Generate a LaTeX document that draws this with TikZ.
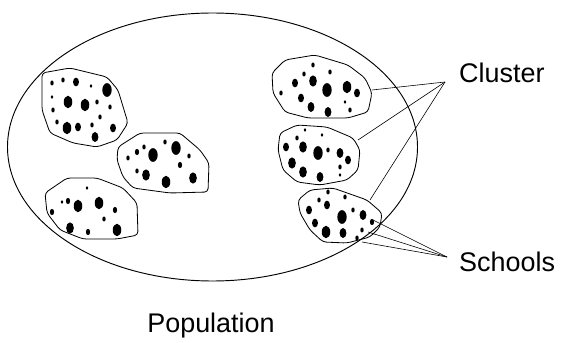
\documentclass[tikz,border=0pt]{standalone}
\usepackage{fontspec}
\setmainfont{Liberation Sans}
\begin{document}
\begin{tikzpicture}[x=0.03cm, y=-0.03cm,
    blob/.style={line width=0.7pt, rounded corners=3pt},
    spot/.style={fill=black},
    pointer/.style={line width=0.5pt},
    lbl/.style={font=\fontsize{23}{26}\selectfont, inner sep=0pt}]
\useasboundingbox (0,0) rectangle (561,343);

% Population
\draw[line width=0.8pt] (212.5,147) ellipse [x radius=205, y radius=134];
\node[lbl] (pop) at (211,326) {Population};

% Clusters, left side
\draw[blob] (42,73) -- (70,68) -- (107,77) -- (118,90) -- (128,123) -- (117,140)
    -- (97,147) -- (73,143) -- (50,133) -- (42,110) -- cycle;
\draw[blob] (118,147) -- (140,133) -- (180,133) -- (200,150) -- (209,163) -- (208,192)
    -- (170,193) -- (133,188) -- (123,177) -- (117,160) -- cycle;
\draw[blob] (45,193) -- (67,178) -- (97,178) -- (123,188) -- (137,203) -- (138,235)
    -- (117,239) -- (83,239) -- (60,230) -- (47,213) -- cycle;

% Clusters, right side
\draw[blob] (272,73) -- (285,60) -- (315,55) -- (348,65) -- (365,78) -- (372,93)
    -- (368,112) -- (348,118) -- (308,118) -- (285,112) -- (273,93) -- cycle;
\draw[blob] (280,133) -- (297,125) -- (327,127) -- (353,138) -- (360,150) -- (358,170)
    -- (347,180) -- (320,185) -- (297,182) -- (283,170) -- (278,150) -- cycle;
\draw[blob] (298,200) -- (310,190) -- (333,188) -- (367,200) -- (382,213) -- (380,227)
    -- (370,237) -- (347,243) -- (323,242) -- (310,230) -- (300,213) -- cycle;

% Schools (x/y/size)
\foreach \x/\y/\r in {52/83/2, 63/80/2, 76/82/3.5, 91/86/1.5, 107/90/5.5, 52/97/1.5,
    68/102/5, 85/105/5, 97/102/2, 110/107/2, 53/110/2, 100/117/2, 57/122/2,
    67/128/5, 78/127/3.5, 92/125/2, 113/128/3.5, 95/137/4,
    128/158/2, 137/152/2.5, 144/147/2, 153/155/5.5, 165/142/2, 176/148/5.5,
    189/156/2, 180/165/2.5, 137/171/2, 146/175/4.5, 166/182/5, 193/178/4.5,
    87/188/1.5, 62/202/1.5, 68/201/2.5, 78/206/5, 99/203/5, 115/210/2.5,
    52/212/2.5, 104/219/2, 70/228/4.5, 88/232/2.5, 117/230/5,
    313/65/2, 330/72/2, 304/74/2, 295/83/3.5, 313/81/4.5, 327/90/5.5, 281/93/2,
    301/98/3.5, 311/107/4, 328/112/4, 347/87/5, 357/93/3.5, 350/110/2, 345/102/1.5,
    305/130/1.5, 322/135/1.5, 297/138/2, 286/147/3.5, 303/147/4.5, 318/153/5.5,
    328/150/2, 340/153/4, 348/160/3.5, 292/163/4.5, 303/172/4.5, 320/177/4,
    340/167/2, 340/175/1.5,
    328/192/2, 345/197/2, 319/200/2, 309/210/3.5, 327/205/3.5, 342/217/5.5,
    353/210/2, 363/215/4, 372/222/2.5, 315/223/3.5, 326/232/5, 343/233/4,
    362/230/2, 357/238/2}
    \fill[spot] (\x,\y) ellipse [x radius=0.85*\r, y radius=1.25*\r];

% Pointers
\coordinate (c1) at (372,90);
\coordinate (c2) at (358,140);
\coordinate (c3) at (370,200);
\coordinate (ctip) at (445,82);
\coordinate (s1) at (373,220);
\coordinate (s2) at (368,232);
\coordinate (s3) at (362,242);
\coordinate (stip) at (447,257);
\node[lbl, anchor=west] (cluster) at (459,73) {Cluster};
\node[lbl, anchor=west] (schools) at (459,262) {Schools};
\foreach \p in {c1, c2, c3}
    \draw[pointer] (\p) -- (ctip);
\foreach \p in {s1, s2, s3}
    \draw[pointer] (\p) -- (stip);

\end{tikzpicture}
\end{document}
